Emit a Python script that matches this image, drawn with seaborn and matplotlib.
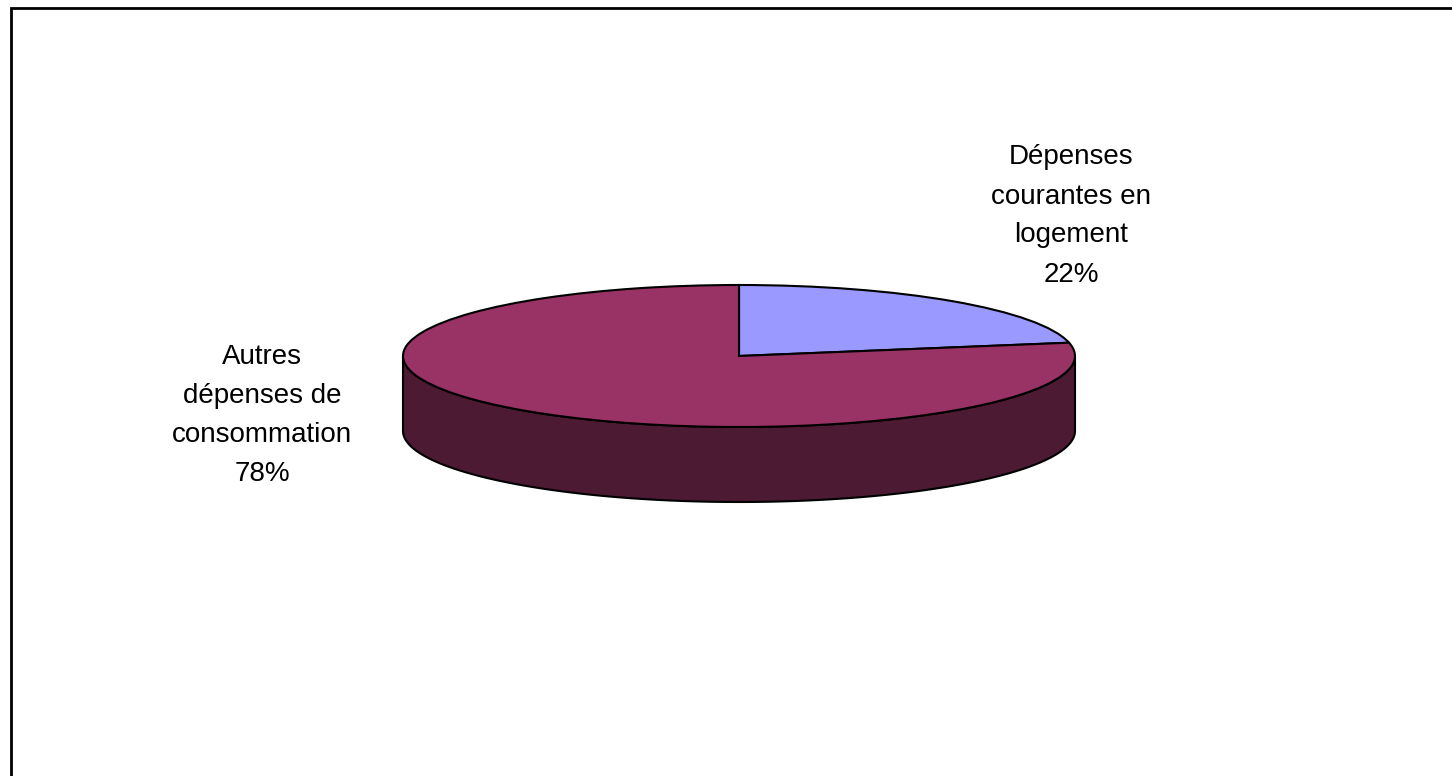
import numpy as np
import matplotlib
matplotlib.use("Agg")
import matplotlib.pyplot as plt
import matplotlib.patches as mpatches
import seaborn as sns

# ---- data ----
categories = ["Dépenses\ncourantes en\nlogement", "Autres\ndépenses de\nconsommation"]
values = [22, 78]
percent_labels = ["22%", "78%"]
top_colors = ["#9999FF", "#993366"]
side_color = "#4C1A33"

sns.set_theme(style="white")
plt.rcParams["font.family"] = ["Liberation Sans", "DejaVu Sans"]

W, H, DPI = 1452, 776, 100
fig = plt.figure(figsize=(W / DPI, H / DPI), dpi=DPI)
fig.patch.set_facecolor("white")
ax = fig.add_axes([0, 0, 1, 1])

# pixel geometry of the flattened pie
cx, cy = 739.0, 356.0      # centre in pixels (y from top)
a_px, b_px = 336.0, 71.0   # half-width / half-height of top ellipse
depth_px = 75.0
depth = depth_px / b_px

# pie drawn as unit circle, axes scaled so it looks flattened
wedges, _ = ax.pie(values, colors=top_colors, startangle=90, counterclock=False,
                   radius=1.0, center=(0, 0),
                   wedgeprops=dict(edgecolor="black", linewidth=1.5, zorder=3))

# side (front visible part, 180..360 deg) of the cylinder
t = np.linspace(np.pi, 2 * np.pi, 200)
top_x, top_y = np.cos(t), np.sin(t)
bot_x, bot_y = np.cos(t[::-1]), np.sin(t[::-1]) - depth
poly = np.column_stack([np.concatenate([top_x, bot_x]), np.concatenate([top_y, bot_y])])
ax.add_patch(mpatches.Polygon(poly, closed=True, facecolor=side_color,
                              edgecolor="black", linewidth=1.5, zorder=2))

ax.set_aspect("auto")
ax.set_xlim(-cx / a_px, (W - cx) / a_px)
ax.set_ylim((cy - H) / b_px, cy / b_px)
ax.axis("off")

# labels
label_pos = [((1071 - cx) / a_px, (cy - 216) / b_px),
             ((262 - cx) / a_px, (cy - 416) / b_px)]
for cat, pct, (lx, ly) in zip(categories, percent_labels, label_pos):
    ax.text(lx, ly, f"{cat}\n{pct}", ha="center", va="center", fontsize=20,
            color="black", linespacing=1.65, zorder=5)

# chart area border (top and left edges visible)
fig.add_artist(mpatches.Rectangle((10.5 / W, -0.2), 2.0, (H - 8.0) / H + 0.2,
                                  transform=fig.transFigure, fill=False,
                                  edgecolor="black", linewidth=2.0, zorder=10))

fig.savefig("out.png", dpi=DPI, facecolor="white")
